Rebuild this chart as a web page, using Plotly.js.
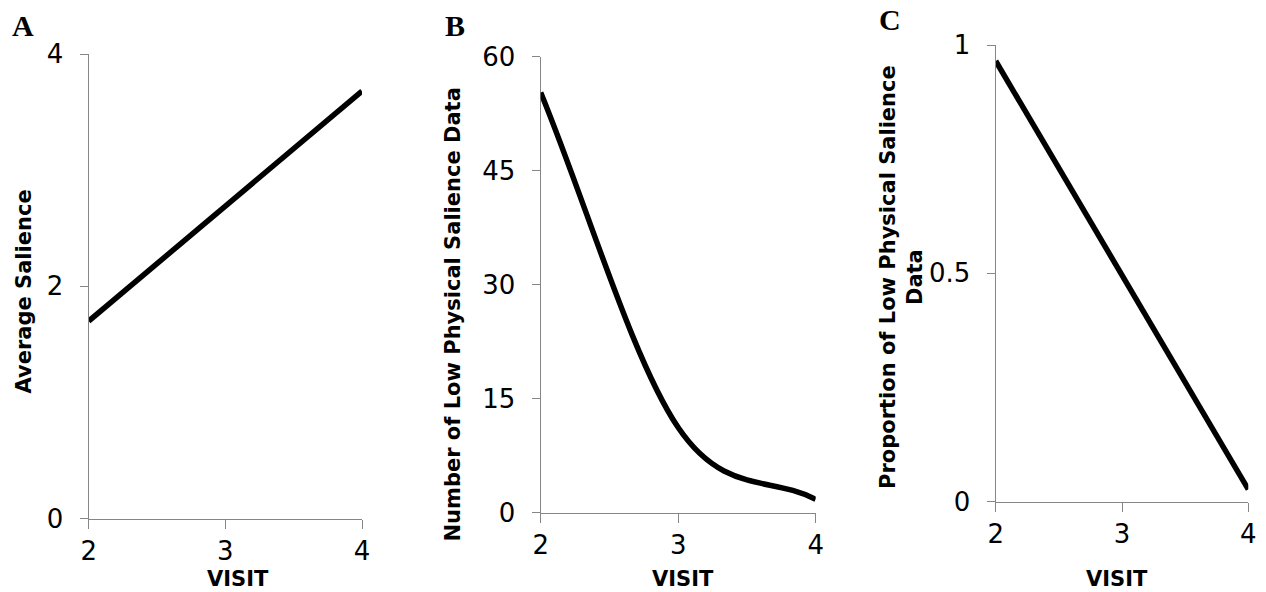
<!DOCTYPE html>
<html>
<head>
<meta charset="utf-8">
<script src="https://cdn.plot.ly/plotly-3.0.1.min.js"></script>
<style>
  html, body { margin: 0; padding: 0; background: #fff; }
  #chart { width: 1266px; height: 592px; }
</style>
</head>
<body>
<div id="chart"></div>
<script>
// Visits on the x axis (shared by all three panels)
const visits = [2, 3, 4];

// Panel A: average salience per visit
const averageSalience = [1.70, 2.69, 3.68];

// Panel B: number of low physical salience data per visit
const lowSalienceCount = [55.3, 11.2, 1.75];

// Panel C: proportion of low physical salience data per visit
const lowSalienceProportion = [0.965, 0.495, 0.027];

// Tick labels
const visitTicks = [2, 3, 4];
const ticksA = [0, 2, 4];
const ticksB = [0, 15, 30, 45, 60];
const ticksC = [0, 0.5, 1];

const axisGray = '#868686';
const tickFont = { family: 'DejaVu Sans, Verdana, sans-serif', size: 26, color: '#000' };
const titleFont = { family: 'DejaVu Sans, Verdana, sans-serif', size: 21, color: '#000', weight: 'bold' };
const letterFont = { family: 'Liberation Serif, Times New Roman, serif', size: 30, color: '#000', weight: 'bold' };

function xAxis(domain, anchor) {
  return {
    domain: domain, anchor: anchor, range: [2, 4],
    tickvals: visitTicks, ticks: 'outside', ticklen: 9, tickwidth: 1, tickcolor: axisGray,
    showline: true, linecolor: axisGray, linewidth: 1.2,
    showgrid: false, zeroline: false, tickfont: tickFont, ticklabelstandoff: 0,
    fixedrange: true
  };
}
function yAxis(domain, anchor, range, ticks) {
  return {
    domain: domain, anchor: anchor, range: range,
    tickvals: ticks, ticks: 'outside', ticklen: 8, tickwidth: 1, tickcolor: axisGray,
    showline: true, linecolor: axisGray, linewidth: 1.2,
    showgrid: false, zeroline: false, tickfont: tickFont, ticklabelstandoff: 11,
    fixedrange: true
  };
}

const W = 1266, H = 592;
const px = v => v / W;
const py = v => 1 - v / H;

const lineStyle = { color: '#000', width: 5.5 };

// Smoothed line through the points (cubic Bezier segments whose tangents
// follow neighbouring points, the usual "smoothed line" rendering).
function smoothPath(xs, ys) {
  const n = xs.length;
  let d = 'M ' + xs[0] + ',' + ys[0];
  for (let i = 0; i < n - 1; i++) {
    const xPrev = i > 0 ? xs[i - 1] : null, yPrev = i > 0 ? ys[i - 1] : null;
    const xNext2 = i + 2 < n ? xs[i + 2] : null, yNext2 = i + 2 < n ? ys[i + 2] : null;
    let c1x, c1y, c2x, c2y;
    if (xPrev === null) {
      c1x = xs[i] + (xs[i + 1] - xs[i]) / 3;
      c1y = ys[i] + (ys[i + 1] - ys[i]) / 3;
    } else {
      c1x = xs[i] + (xs[i + 1] - xPrev) / 6;
      c1y = ys[i] + (ys[i + 1] - yPrev) / 6;
    }
    if (xNext2 === null) {
      c2x = xs[i + 1] - (xs[i + 1] - xs[i]) / 3;
      c2y = ys[i + 1] - (ys[i + 1] - ys[i]) / 3;
    } else {
      c2x = xs[i + 1] - (xNext2 - xs[i]) / 6;
      c2y = ys[i + 1] - (yNext2 - ys[i]) / 6;
    }
    d += ' C ' + c1x + ',' + c1y + ' ' + c2x + ',' + c2y + ' ' + xs[i + 1] + ',' + ys[i + 1];
  }
  return d;
}

const traces = [
  { x: visits, y: averageSalience, xaxis: 'x', yaxis: 'y', mode: 'lines', line: lineStyle, hoverinfo: 'x+y' },
  // points for panel B; the smoothed curve through them is drawn as a data-referenced path
  { x: visits, y: lowSalienceCount, xaxis: 'x2', yaxis: 'y2', mode: 'markers',
    marker: { size: 6, color: '#000', opacity: 0 }, hoverinfo: 'x+y' },
  { x: visits, y: lowSalienceProportion, xaxis: 'x3', yaxis: 'y3', mode: 'lines', line: lineStyle, hoverinfo: 'x+y' }
];

function ann(text, x, y, font, angle) {
  return {
    text: text, xref: 'paper', yref: 'paper', x: px(x), y: py(y),
    xanchor: 'center', yanchor: 'middle', showarrow: false, font: font,
    textangle: angle || 0, align: 'center'
  };
}
// x-axis titles sit on the bottom edge of the figure
function visitTitle(x) {
  return {
    text: 'VISIT', xref: 'paper', yref: 'paper', x: px(x), y: 0,
    xanchor: 'center', yanchor: 'bottom', showarrow: false, font: titleFont,
    borderpad: 0
  };
}

const layout = {
  width: W, height: H,
  margin: { l: 0, r: 0, t: 0, b: 0 },
  paper_bgcolor: '#fff', plot_bgcolor: '#fff',
  showlegend: false,
  xaxis: xAxis([px(88.7), px(362)], 'y'),
  yaxis: yAxis([py(518.5), py(54)], 'x', [0, 4], ticksA),
  xaxis2: xAxis([px(540.7), px(815.7)], 'y2'),
  yaxis2: yAxis([py(512.7), py(56.7)], 'x2', [0, 60], ticksB),
  xaxis3: xAxis([px(995.7), px(1248.3)], 'y3'),
  yaxis3: yAxis([py(501.7), py(45)], 'x3', [0, 1], ticksC),
  shapes: [
    { type: 'path', xref: 'x2', yref: 'y2', path: smoothPath(visits, lowSalienceCount),
      line: { color: '#000', width: 5.5 }, fillcolor: 'rgba(0,0,0,0)', layer: 'above' }
  ],
  annotations: [
    ann('A', 22.5, 25.5, letterFont),
    ann('B', 455, 25.5, letterFont),
    ann('C', 890, 19.7, letterFont),
    ann('Average Salience', 23.5, 292, titleFont, -90),
    ann('Number of Low Physical Salience Data', 452.5, 315, titleFont, -90),
    ann('Proportion of Low Physical Salience<br>Data', 901, 277, titleFont, -90),
    visitTitle(238),
    visitTitle(683),
    visitTitle(1117)
  ]
};

Plotly.newPlot('chart', traces, layout, { displayModeBar: false, staticPlot: true });
</script>
</body>
</html>
